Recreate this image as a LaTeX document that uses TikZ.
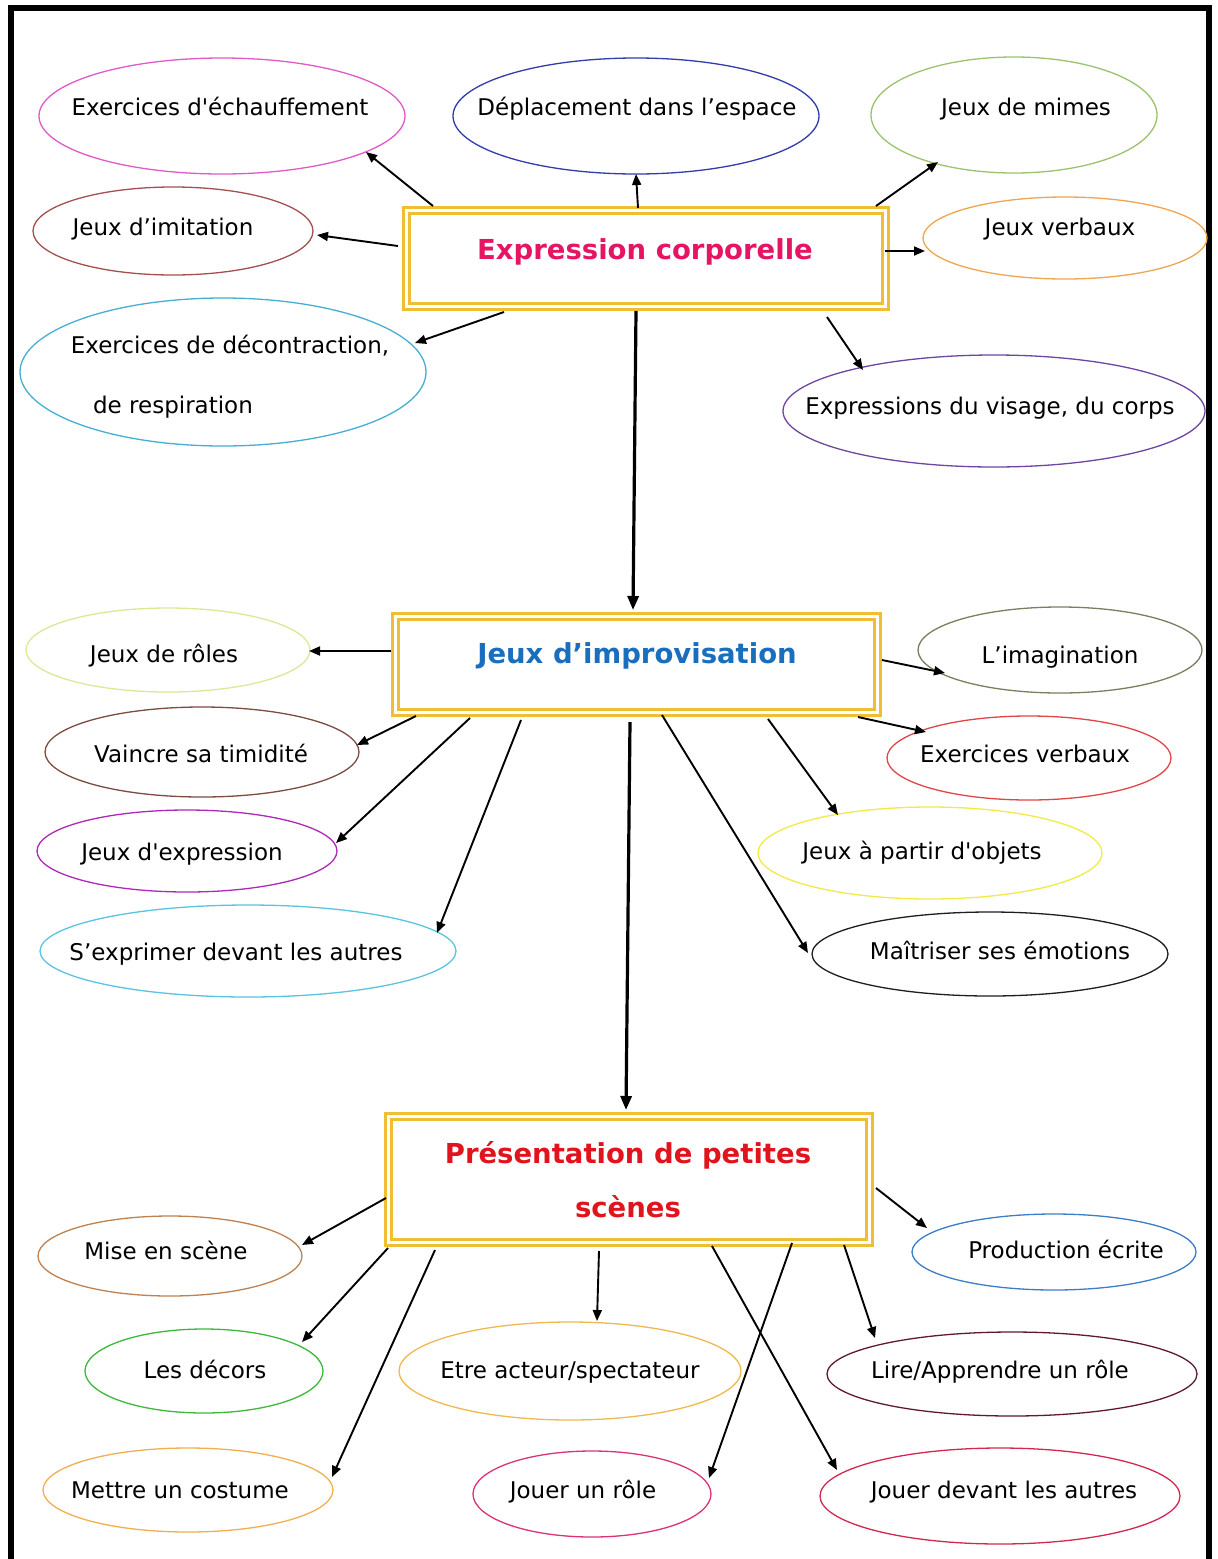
\documentclass[tikz,border=0pt]{standalone}
\usepackage{fontspec}
\setmainfont{DejaVu Sans}
\usetikzlibrary{shapes.geometric,arrows.meta,calc}
\definecolor{gold}{RGB}{240,190,50}
\definecolor{tpink}{RGB}{230,20,100}
\definecolor{tblue}{RGB}{25,110,190}
\definecolor{tred}{RGB}{225,20,30}
\definecolor{c1}{RGB}{225,90,200}
\definecolor{c2}{RGB}{50,60,170}
\definecolor{c3}{RGB}{155,195,110}
\definecolor{c4}{RGB}{165,80,80}
\definecolor{c5}{RGB}{240,165,80}
\definecolor{c6}{RGB}{70,175,210}
\definecolor{c7}{RGB}{110,70,160}
\definecolor{c8}{RGB}{215,235,150}
\definecolor{c9}{RGB}{125,75,65}
\definecolor{c10}{RGB}{175,40,185}
\definecolor{c11}{RGB}{90,195,225}
\definecolor{c12}{RGB}{125,125,95}
\definecolor{c13}{RGB}{225,70,70}
\definecolor{c14}{RGB}{240,235,70}
\definecolor{c15}{RGB}{30,30,30}
\definecolor{c16}{RGB}{190,130,80}
\definecolor{c17}{RGB}{60,185,60}
\definecolor{c18}{RGB}{240,175,80}
\definecolor{c19}{RGB}{240,185,80}
\definecolor{c20}{RGB}{220,50,120}
\definecolor{c21}{RGB}{210,40,80}
\definecolor{c22}{RGB}{95,25,55}
\definecolor{c23}{RGB}{60,125,200}
\begin{document}
\begin{tikzpicture}[x=1pt,y=-1pt,
  oval/.style={ellipse,draw,line width=1.3pt,inner sep=0pt},
  lbl/.style={anchor=base,font=\fontsize{23}{27}\selectfont,text=black,inner sep=0pt},
  ttl/.style={anchor=base,font=\fontsize{27.5}{32}\selectfont\bfseries,inner sep=0pt},
  boxy/.style={rectangle,draw=gold,line width=3pt,double=white,double distance=2.4pt,inner sep=0pt},
  arr/.style={-{Triangle[length=11pt,width=9pt]},line width=1.9pt},
  mainarr/.style={-{Triangle[length=14pt,width=11pt]},line width=3.2pt}]
\useasboundingbox (0,0) rectangle (1218,1559);
\fill[white] (0,0) rectangle (1218,1559);
% frame
\draw[line width=6pt] (11,1580) -- (11,8) -- (1209,8) -- (1209,1580);

% boxes
\node[boxy,minimum width=479pt,minimum height=96pt] (b1) at (646,258.5) {};
\node[boxy,minimum width=482pt,minimum height=96pt] (b2) at (636.5,664.5) {};
\node[boxy,minimum width=481pt,minimum height=126pt] (b3) at (629,1179.5) {};
\node[ttl,text=tpink] (t1) at (645,259) {Expression corporelle};
\node[ttl,text=tblue] (t2) at (637,663) {Jeux d’improvisation};
\node[ttl,text=tred] (t3a) at (628,1163) {Présentation de petites};
\node[ttl,text=tred] (t3b) at (628,1217) {scènes};

% ellipses top
\node[oval,draw=c1,minimum width=366pt,minimum height=116pt] (e1) at (222,116) {};
\node[lbl] (l1) at (220,115) {Exercices d\textquotesingle échauffement};
\node[oval,draw=c2,minimum width=366pt,minimum height=116pt] (e2) at (636,116) {};
\node[lbl] (l2) at (637,115) {Déplacement dans l’espace};
\node[oval,draw=c3,minimum width=286pt,minimum height=116pt] (e3) at (1014,115) {};
\node[lbl] (l3) at (1026,115) {Jeux de mimes};
\node[oval,draw=c4,minimum width=280pt,minimum height=88pt] (e4) at (173,231) {};
\node[lbl] (l4) at (163,235) {Jeux d’imitation};
\node[oval,draw=c5,minimum width=284pt,minimum height=82pt] (e5) at (1065,238) {};
\node[lbl] (l5) at (1060,235) {Jeux verbaux};
\node[oval,draw=c6,minimum width=406pt,minimum height=148pt] (e6) at (223,372) {};
\node[lbl] (l6a) at (230,353) {Exercices de décontraction,};
\node[lbl] (l6b) at (173,413) {de respiration};
\node[oval,draw=c7,minimum width=422pt,minimum height=112pt] (e7) at (994,411) {};
\node[lbl] (l7) at (990,414) {Expressions du visage, du corps};

% ellipses middle
\node[oval,draw=c8,minimum width=284pt,minimum height=84pt] (e8) at (168,650) {};
\node[lbl] (l8) at (164,662) {Jeux de rôles};
\node[oval,draw=c9,minimum width=314pt,minimum height=90pt] (e9) at (202,752) {};
\node[lbl] (l9) at (201,762) {Vaincre sa timidité};
\node[oval,draw=c10,minimum width=300pt,minimum height=82pt] (e10) at (187,851) {};
\node[lbl] (l10) at (182,860) {Jeux d\textquotesingle expression};
\node[oval,draw=c11,minimum width=416pt,minimum height=92pt] (e11) at (248,951) {};
\node[lbl] (l11) at (236,960) {S’exprimer devant les autres};
\node[oval,draw=c12,minimum width=284pt,minimum height=86pt] (e12) at (1060,650) {};
\node[lbl] (l12) at (1060,663) {L’imagination};
\node[oval,draw=c13,minimum width=284pt,minimum height=84pt] (e13) at (1029,758) {};
\node[lbl] (l13) at (1025,762) {Exercices verbaux};
\node[oval,draw=c14,minimum width=344pt,minimum height=92pt] (e14) at (930,853) {};
\node[lbl] (l14) at (922,859) {Jeux à partir d\textquotesingle objets};
\node[oval,draw=c15,minimum width=356pt,minimum height=84pt] (e15) at (990,954) {};
\node[lbl] (l15) at (1000,959) {Maîtriser ses émotions};

% ellipses bottom
\node[oval,draw=c16,minimum width=264pt,minimum height=80pt] (e16) at (170,1256) {};
\node[lbl] (l16) at (166,1259) {Mise en scène};
\node[oval,draw=c17,minimum width=238pt,minimum height=84pt] (e17) at (204,1371) {};
\node[lbl] (l17) at (205,1378) {Les décors};
\node[oval,draw=c18,minimum width=290pt,minimum height=84pt] (e18) at (188,1490) {};
\node[lbl] (l18) at (180,1498) {Mettre un costume};
\node[oval,draw=c19,minimum width=342pt,minimum height=98pt] (e19) at (570,1371) {};
\node[lbl] (l19) at (570,1378) {Etre acteur/spectateur};
\node[oval,draw=c20,minimum width=238pt,minimum height=86pt] (e20) at (592,1494) {};
\node[lbl] (l20) at (583,1498) {Jouer un rôle};
\node[oval,draw=c21,minimum width=360pt,minimum height=96pt] (e21) at (1000,1496) {};
\node[lbl] (l21) at (1004,1498) {Jouer devant les autres};
\node[oval,draw=c22,minimum width=370pt,minimum height=84pt] (e22) at (1012,1374) {};
\node[lbl] (l22) at (1000,1378) {Lire/Apprendre un rôle};
\node[oval,draw=c23,minimum width=284pt,minimum height=76pt] (e23) at (1054,1252) {};
\node[lbl] (l23) at (1066,1258) {Production écrite};

% connectors top
\draw[arr] ($(b1)+(-213,-52.5)$) -- ($(e1)+(144,36)$);
\draw[arr] ($(b1)+(-8,-50.5)$) -- ($(e2)+(0,58)$);
\draw[arr] ($(b1)+(230,-52.5)$) -- ($(e3)+(-76,47)$);
\draw[arr] ($(b1)+(-248,-12.5)$) -- ($(e4)+(144,4)$);
\draw[arr] ($(b1)+(239,-7.5)$) -- ($(e5)+(-140,13)$);
\draw[arr] ($(b1)+(-142,53.5)$) -- ($(e6)+(192,-29)$);
\draw[arr] ($(b1)+(181,58.5)$) -- ($(e7)+(-131,-41)$);
\draw[mainarr] ($(b1)+(-10,52.5)$) -- ($(b2)+(-3.5,-54.5)$);
% connectors middle
\draw[arr] ($(b2)+(-245.5,-13.5)$) -- ($(e8)+(141,1)$);
\draw[arr] ($(b2)+(-220.5,51.5)$) -- ($(e9)+(155,-7)$);
\draw[arr] ($(b2)+(-166.5,53.5)$) -- ($(e10)+(149,-8)$);
\draw[arr] ($(b2)+(-115.5,55.5)$) -- ($(e11)+(189,-18)$);
\draw[mainarr] ($(b2)+(-6.5,57.5)$) -- ($(b3)+(-3,-69.5)$);
\draw[arr] ($(b2)+(131.5,54.5)$) -- ($(e14)+(-92,-38)$);
\draw[arr] ($(b2)+(25.5,50.5)$) -- ($(e15)+(-182,-1)$);
\draw[arr] ($(b2)+(245.5,-4.5)$) -- ($(e12)+(-115,23)$);
\draw[arr] ($(b2)+(221.5,52.5)$) -- ($(e13)+(-103,-26)$);
% connectors bottom
\draw[arr] ($(b3)+(-243,18.5)$) -- ($(e16)+(132,-11)$);
\draw[arr] ($(b3)+(-241,68.5)$) -- ($(e17)+(98,-29)$);
\draw[arr] ($(b3)+(-194,70.5)$) -- ($(e18)+(144,-13)$);
\draw[arr] ($(b3)+(-30,71.5)$) -- ($(e19)+(27,-50)$);
\draw[arr] ($(b3)+(163,63.5)$) -- ($(e20)+(117,-16)$);
\draw[arr] ($(b3)+(83,66.5)$) -- ($(e21)+(-163,-26)$);
\draw[arr] ($(b3)+(215,65.5)$) -- ($(e22)+(-137,-36)$);
\draw[arr] ($(b3)+(247,8.5)$) -- ($(e23)+(-127,-24)$);
\end{tikzpicture}
\end{document}
